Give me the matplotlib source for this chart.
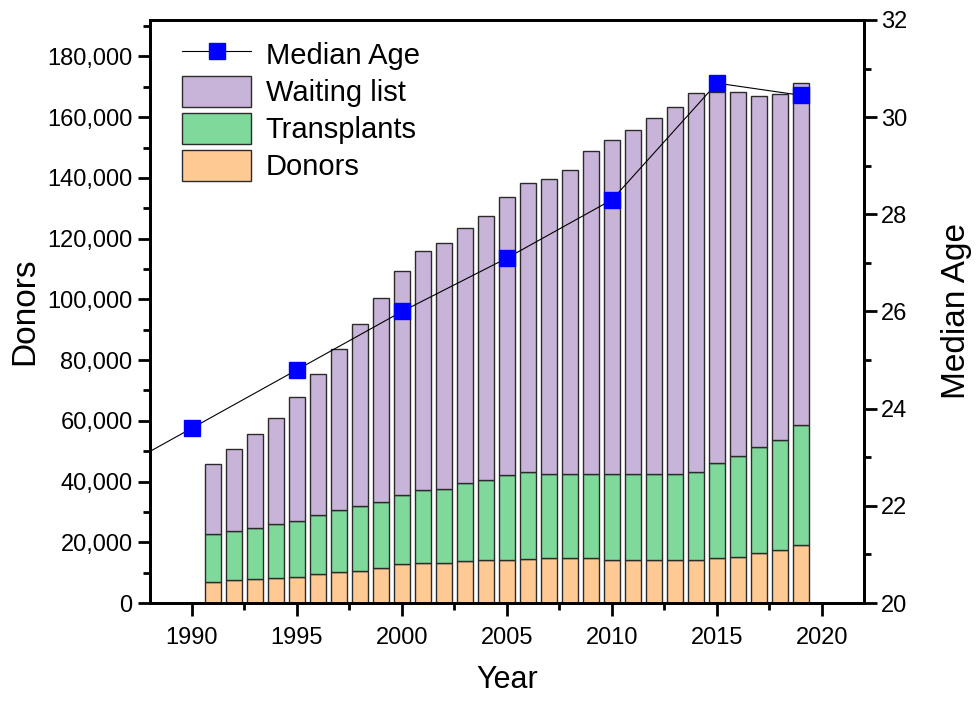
import matplotlib.pyplot as plt
from matplotlib.ticker import MultipleLocator, FuncFormatter
from matplotlib.lines import Line2D
from matplotlib.patches import Patch

plt.rcParams['font.family'] = ['Liberation Sans', 'DejaVu Sans']

# data
years = list(range(1991, 2020))
donors = [6800, 7470, 7800, 8130, 8460, 9550, 10210, 10640, 11420, 12740,
          13070, 13170, 13730, 14060, 14060, 14390, 14720, 14720, 14720, 14060,
          14060, 14060, 14060, 14060, 14720, 15050, 16360, 17550, 19100]
transplants_top = [22620, 23600, 24590, 26010, 27100, 28880, 30530, 31940, 33360, 35460,
                   37210, 37540, 39620, 40450, 42100, 43040, 42380, 42380, 42380, 42600,
                   42600, 42380, 42380, 43140, 46000, 48410, 51270, 53680, 58620]
waiting_top = [45670, 50610, 55550, 61020, 67730, 75500, 83540, 92000, 100300, 109400,
               116000, 118550, 123380, 127440, 133700, 138200, 139600, 142500, 148700, 152600,
               155800, 159600, 163400, 168000, 168400, 168400, 167000, 167600, 171100]

age_years = [1985, 1990, 1995, 2000, 2005, 2010, 2015, 2019]
median_age = [22.4, 23.6, 24.8, 26.0, 27.1, 28.3, 30.7, 30.45]

transplants = [t - d for t, d in zip(transplants_top, donors)]
waiting = [w - t for w, t in zip(waiting_top, transplants_top)]

c_wait = '#C8B4D8'
c_trans = '#7FD99A'
c_don = '#FFC994'
edge = '#2b2b2b'

fig = plt.figure(figsize=(9.8, 7.03), dpi=100)
ax = fig.add_axes([0.153, 0.1422, 0.7286, 0.8294])

ax.bar(years, donors, width=0.8, color=c_don, edgecolor=edge, linewidth=1)
ax.bar(years, transplants, width=0.8, bottom=donors, color=c_trans, edgecolor=edge, linewidth=1)
ax.bar(years, waiting, width=0.8, bottom=transplants_top, color=c_wait, edgecolor=edge, linewidth=1)

ax.set_xlim(1988, 2022)
ax.set_ylim(0, 192000)
ax.xaxis.set_major_locator(MultipleLocator(5))
ax.xaxis.set_minor_locator(MultipleLocator(2.5))
ax.yaxis.set_major_locator(MultipleLocator(20000))
ax.yaxis.set_minor_locator(MultipleLocator(10000))
ax.yaxis.set_major_formatter(FuncFormatter(lambda v, p: f'{int(v):,}'))
ax.tick_params(which='major', direction='out', length=9, width=2, labelsize=17)
ax.tick_params(which='minor', direction='out', length=5, width=2)
ax.tick_params(axis='x', pad=8)
for s in ax.spines.values():
    s.set_linewidth(2)

ax.set_xlabel('Year', fontsize=22, labelpad=12)
ax.set_ylabel('Donors', fontsize=24, family=['Liberation Sans Narrow', 'Liberation Sans'], labelpad=5)

ax2 = ax.twinx()
ax2.plot(age_years, median_age, color='black', linewidth=0.8, marker='s',
         markersize=11, markerfacecolor='#0000FF', markeredgecolor='#0000FF', zorder=5)
ax2.set_ylim(20, 32)
ax2.yaxis.set_major_locator(MultipleLocator(2))
ax2.yaxis.set_minor_locator(MultipleLocator(1))
ax2.tick_params(which='major', direction='out', length=9, width=2, labelsize=17)
ax2.tick_params(which='minor', direction='out', length=5, width=2)
ax2.set_ylabel('Median Age', fontsize=24, family=['Liberation Sans Narrow', 'Liberation Sans'], labelpad=24)
for s in ax2.spines.values():
    s.set_linewidth(2)
ax2.set_xlim(1988, 2022)

handles = [
    Line2D([], [], color='black', linewidth=0.8, marker='s', markersize=11,
           markerfacecolor='#0000FF', markeredgecolor='#0000FF'),
    Patch(facecolor=c_wait, edgecolor=edge),
    Patch(facecolor=c_trans, edgecolor=edge),
    Patch(facecolor=c_don, edgecolor=edge),
]
labels = ['Median Age', 'Waiting list', 'Transplants', 'Donors']
ax2.legend(handles, labels, loc='upper left', bbox_to_anchor=(0.017, 1.003), frameon=False,
           fontsize=21, handlelength=2.35, handleheight=1.25, handletextpad=0.5,
           labelspacing=0.2, borderaxespad=0.3)

fig.savefig('out.png', dpi=100)
